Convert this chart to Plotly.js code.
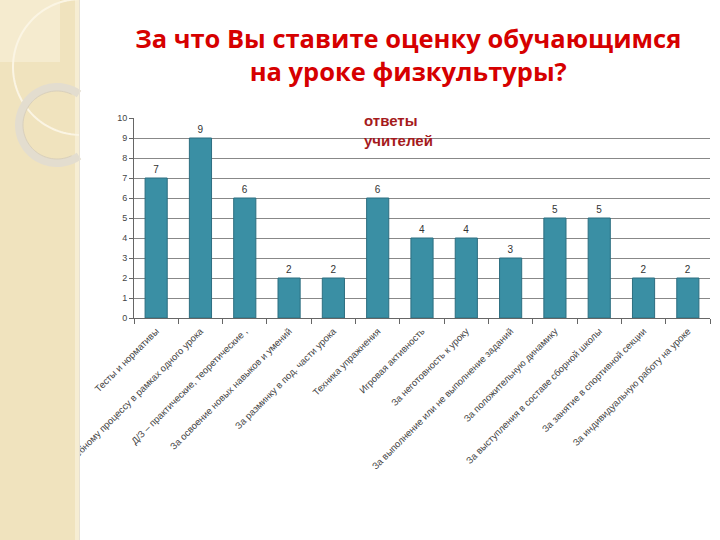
<!DOCTYPE html>
<html>
<head>
<meta charset="utf-8">
<script src="https://cdn.plot.ly/plotly-3.0.1.min.js"></script>
<style>html,body{margin:0;padding:0;background:#fff;}#chart{width:720px;height:540px;}</style>
</head>
<body>
<div id="chart"></div>
<script>
const categories = [
  "Тесты и нормативы",
  "За отношение к учебному процессу в рамках одного урока",
  "Д/З – практические, теоретические ,",
  "За освоение новых навыков и умений",
  "За разминку в под. части урока",
  "Техника упражнения",
  "Игровая активность",
  "За неготовность к уроку",
  "За выполнение или не выполнение заданий",
  "За положительную динамику",
  "За выступления в составе сборной школы",
  "За занятие в спортивной секции",
  "За индивидуальную работу на уроке"
];
const values = [7, 9, 6, 2, 2, 6, 4, 4, 3, 5, 5, 2, 2];
const yTicks = [0, 1, 2, 3, 4, 5, 6, 7, 8, 9, 10];
const titleText = "За что Вы ставите оценку обучающимся<br>на уроке физкультуры?";
const noteText = "ответы<br>учителей";

// decoration helpers (pixel -> paper coords of the plot area)
const PL = 134, PT = 118, PW = 576, PH = 200;
function px(x) { return (x - PL) / PW; }
function py(y) { return (PT + PH - y) / PH; }
function arcPath(cx, cy, r, a0, a1, n) {
  let d = "";
  for (let i = 0; i <= n; i++) {
    const a = (a0 + (a1 - a0) * i / n) * Math.PI / 180;
    const x = cx + r * Math.cos(a), y = cy - r * Math.sin(a);
    d += (i === 0 ? "M" : "L") + px(x).toFixed(5) + "," + py(y).toFixed(5);
  }
  return d;
}
const ringStart = Math.acos((79 - 57) / 38) * 180 / Math.PI;
const bigStart = Math.acos((79 - 81) / 68) * 180 / Math.PI;

const trace = {
  type: "bar",
  x: categories,
  y: values,
  text: values.map(String),
  textposition: "outside",
  textfont: {family: "Arial, Liberation Sans, sans-serif", size: 10, color: "#333"},
  cliponaxis: false,
  width: 0.5,
  marker: {color: "#3A8FA4", line: {color: "#2C6E80", width: 1}},
  hoverinfo: "none"
};

const layout = {
  width: 720, height: 540,
  margin: {l: PL, r: 10, t: PT, b: 222, pad: 0},
  paper_bgcolor: "#ffffff",
  plot_bgcolor: "#ffffff",
  showlegend: false,
  title: {
    text: titleText,
    font: {family: "'Open Sans', Lato, sans-serif", size: 25.5, color: "#D60000", weight: "bold"},
    x: 0.567, xanchor: "center", xref: "container",
    y: 1 - 48/540, yanchor: "top", yref: "container"
  },
  xaxis: {
    type: "category",
    tickangle: -45,
    tickfont: {family: "Arial, Liberation Sans, sans-serif", size: 9.5, color: "#444"},
    ticks: "outside", ticklen: 5, tickcolor: "#666", tickson: "boundaries",
    ticklabelstandoff: 3,
    showline: true, linecolor: "#666", linewidth: 1,
    showgrid: false, automargin: false, fixedrange: true
  },
  yaxis: {
    range: [0, 10],
    tickvals: yTicks,
    ticktext: yTicks.map(String),
    tickfont: {family: "Arial, Liberation Sans, sans-serif", size: 9, color: "#444"},
    ticks: "outside", ticklen: 4, tickcolor: "#666",
    showline: true, linecolor: "#666", linewidth: 1,
    showgrid: true, gridcolor: "#888888", gridwidth: 1,
    zeroline: false, automargin: false, fixedrange: true
  },
  annotations: [{
    text: noteText,
    xref: "paper", yref: "paper", x: px(362), y: py(110),
    xanchor: "left", yanchor: "top", showarrow: false, align: "left",
    font: {family: "Arial, Liberation Sans, sans-serif", size: 15, color: "#A51A1C", weight: "bold"}
  }],
  shapes: [
    {type: "rect", xref: "paper", yref: "paper", layer: "above",
     x0: px(0), x1: px(79), y0: py(540), y1: py(0),
     fillcolor: "#F0E3BE", line: {width: 0}},
    {type: "rect", xref: "paper", yref: "paper", layer: "above",
     x0: px(0), x1: px(60), y0: py(62), y1: py(0),
     fillcolor: "#F5EBCF", line: {width: 0}},
    {type: "rect", xref: "paper", yref: "paper", layer: "above",
     x0: px(75), x1: px(79), y0: py(540), y1: py(0),
     fillcolor: "#F6EDD3", line: {width: 0}},
    {type: "path", xref: "paper", yref: "paper", layer: "above",
     path: arcPath(81, 67, 68, bigStart, 360 - bigStart, 80),
     line: {color: "#FBF5E4", width: 2}},
    {type: "path", xref: "paper", yref: "paper", layer: "above",
     path: arcPath(57, 125, 38, ringStart, 360 - ringStart, 80),
     line: {color: "#E3DDCF", width: 8}},
    {type: "path", xref: "paper", yref: "paper", layer: "above",
     path: arcPath(57, 125, 34, ringStart + 10, 360 - ringStart - 10, 80),
     line: {color: "#D9D0BC", width: 1}},
    {type: "line", xref: "paper", yref: "paper", layer: "above",
     x0: px(79.5), x1: px(79.5), y0: py(540), y1: py(0),
     line: {color: "#E6E0D2", width: 1}}
  ]
};

Plotly.newPlot("chart", [trace], layout, {displayModeBar: false, staticPlot: true});
</script>
</body>
</html>
